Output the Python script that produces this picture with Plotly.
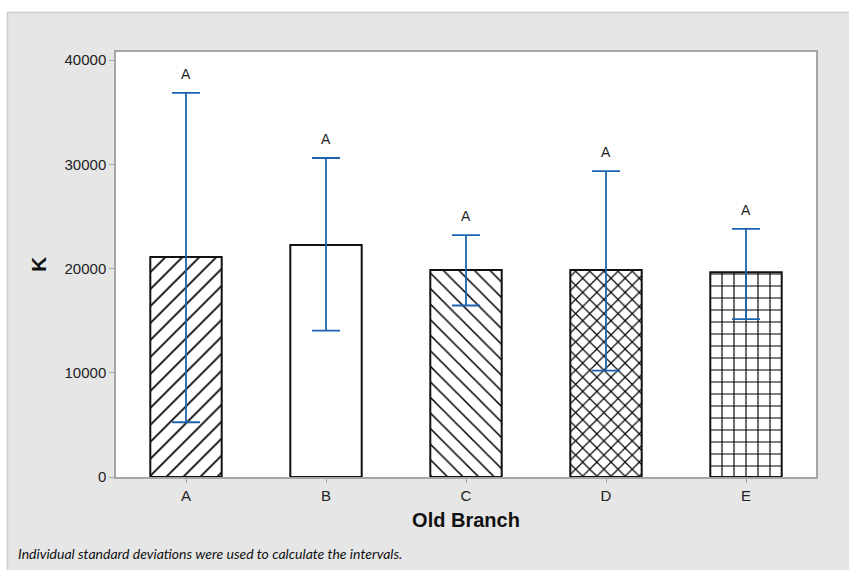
import plotly.graph_objects as go

categories = ["A", "B", "C", "D", "E"]
means = [21100, 22250, 19850, 19850, 19650]
upper = [36850, 30600, 23200, 29350, 23800]
lower = [5250, 14050, 16450, 10200, 15150]
groups = ["A", "A", "A", "A", "A"]
patterns = ["/", "", "\\", "x", "+"]
pattern_sizes = [12, 12, 11, 10, 12]
pattern_solidity = [0.14, 0.14, 0.14, 0.22, 0.18]
yticks = [0, 10000, 20000, 30000, 40000]

W, H = 849, 570
L, R, T, B = 116, 816, 52, 477

err_plus = [u - m for u, m in zip(upper, means)]
err_minus = [m - l for m, l in zip(means, lower)]

fig = go.Figure()
fig.add_trace(go.Bar(
    x=categories, y=means, width=0.51,
    marker=dict(
        color="white",
        line=dict(color="#111111", width=2),
        pattern=dict(shape=patterns, size=pattern_sizes, solidity=pattern_solidity,
                     fgcolor="#000000", bgcolor="white", fillmode="replace"),
    ),
    error_y=dict(type="data", symmetric=False, array=err_plus, arrayminus=err_minus,
                 color="#1f62ae", thickness=1.8, width=14),
    showlegend=False, hoverinfo="skip",
))

for c, u, g in zip(categories, upper, groups):
    fig.add_annotation(x=c, y=u, text=g, showarrow=False, yshift=19,
                       font=dict(family="Liberation Sans, Arial", size=14, color="#222"))

def px_x(p):
    return (p - L) / (R - L)

def px_y(p):
    return (B - p) / (B - T)

shapes = [
    dict(type="rect", xref="paper", yref="paper", x0=px_x(0), x1=px_x(W + 5), y0=px_y(12), y1=px_y(-5),
         fillcolor="white", line=dict(width=0), layer="above"),
    dict(type="rect", xref="paper", yref="paper", x0=px_x(-5), x1=px_x(7), y0=px_y(H + 5), y1=px_y(-5),
         fillcolor="white", line=dict(width=0), layer="above"),
    dict(type="line", xref="paper", yref="paper", x0=px_x(7), x1=px_x(W + 5), y0=px_y(12.5), y1=px_y(12.5),
         line=dict(color="#cccccc", width=1.5), layer="above"),
    dict(type="line", xref="paper", yref="paper", x0=px_x(7.5), x1=px_x(7.5), y0=px_y(12), y1=px_y(H + 5),
         line=dict(color="#cccccc", width=1.5), layer="above"),
]

fig.update_layout(
    width=W, height=H,
    margin=dict(l=L, r=W - R, t=T, b=H - B),
    paper_bgcolor="#e6e6e6", plot_bgcolor="white",
    shapes=shapes,
    font=dict(family="Liberation Sans, Arial", size=15, color="#222"),
    xaxis=dict(
        range=[-0.5, 4.5], showline=True, linecolor="#a6a6a6", linewidth=1.5, mirror=True,
        ticks="outside", ticklen=4, tickcolor="#a6a6a6", showgrid=False,
        tickfont=dict(size=15, color="#222"),
        title=dict(text="<b>Old Branch</b>", font=dict(size=20, color="#111"), standoff=10),
    ),
    yaxis=dict(
        range=[0, 40770], showline=True, linecolor="#a6a6a6", linewidth=1.5, mirror=True,
        ticks="outside", ticklen=5, tickcolor="#a6a6a6", showgrid=False, zeroline=False,
        tickvals=yticks, ticktext=[str(v) for v in yticks],
        tickfont=dict(size=15, color="#222"),
        title=dict(text="<b>K</b>", font=dict(size=21, color="#111"), standoff=12),
    ),
)

fig.add_annotation(xref="paper", yref="paper", x=px_x(16), y=px_y(553), xanchor="left", yanchor="middle",
                   text="<i>Individual standard deviations were used to calculate the intervals.</i>",
                   showarrow=False, font=dict(family="Lato, Open Sans", size=14, color="#111"))

fig.write_html("out.html")
